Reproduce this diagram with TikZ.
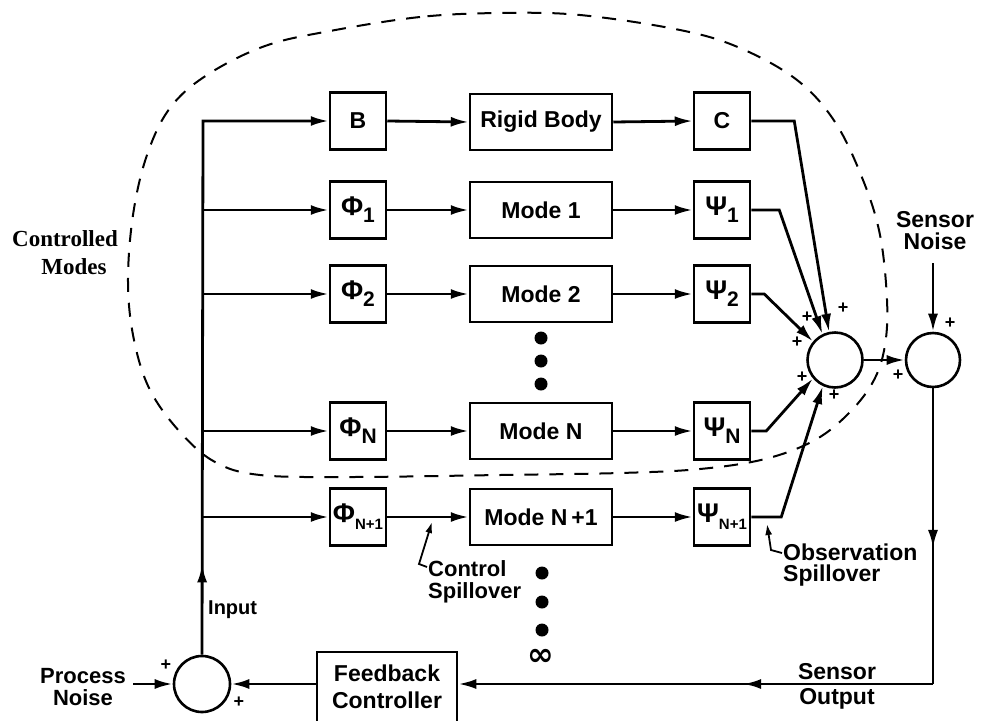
\documentclass[tikz,border=0pt]{standalone}
\usepackage{fontspec}
\newfontfamily\hv{Liberation Sans}
\newfontfamily\dv{DejaVu Sans}
\newfontfamily\tms{Liberation Serif}
\usetikzlibrary{arrows.meta,decorations.markings,calc}
\newcommand\mysub[2][21]{\raisebox{-7pt}{\fontsize{#1}{#1}\selectfont #2}}
\newcommand\bigG[1]{{\fontsize{27}{27}\selectfont #1}}
\begin{document}
\begin{tikzpicture}[x=1pt,y=-1pt,line join=miter,
  conn/.style={line width=2.8pt,-{Latex[length=18pt,width=10pt]}},
  ln/.style={line width=2.8pt},
  blk/.style={draw,line width=2.5pt,minimum width=56pt,minimum height=57pt,inner sep=0pt,font=\hv\bfseries\fontsize{23}{25}\selectfont},
  wide/.style={blk,minimum width=142pt,minimum height=56pt},
  sumj/.style={circle,draw,line width=2.6pt,inner sep=0pt},
  lbl/.style={font=\hv\bfseries\fontsize{23}{25}\selectfont,align=center,inner sep=0pt},
  pl/.style={font=\hv\bfseries\fontsize{18}{18}\selectfont,inner sep=0pt},
  dotn/.style={circle,fill,minimum size=13pt,inner sep=0pt},
  lead/.style={line width=1.8pt,-{Latex[length=11pt,width=7pt]}},
  midarr/.style={postaction={decorate},decoration={markings,mark=at position #1 with {\arrow{Latex[length=18pt,width=10pt]}}}},
]
\useasboundingbox (0,0) rectangle (981,720);

% dashed boundary of controlled modes
\draw[line width=2pt,dash pattern=on 14pt off 11pt]
  plot[smooth cycle,tension=0.6] coordinates {
  (500,13) (420,17) (330,31) (265,46) (207,75) (170,108) (147,155) (133,215)
  (128,283) (134,340) (150,390) (180,432) (215,462) (260,475) (350,477)
  (500,475) (620,473) (700,469) (765,459) (815,440) (850,412) (874,380)
  (885,345) (887,300) (880,235) (863,180) (835,122) (797,80) (740,48)
  (680,30) (580,15)};

\node[font=\tms\bfseries\fontsize{23}{28}\selectfont,align=center,inner sep=0pt] (cm) at (65,253) {Controlled\\\hspace*{18pt}Modes};

% first column
\node[blk] (b)   at (358,121) {B};
\node[blk] (p1)  at (358,210) {\bigG{Φ}\mysub{1}};
\node[blk] (p2)  at (358,294) {\bigG{Φ}\mysub{2}};
\node[blk] (pn)  at (358,431) {\bigG{Φ}\mysub{N}};
\node[blk] (pn1) at (358,517) {\bigG{Φ}\mysub[15]{N+1}};

% modes
\node[wide] (rb)  at (541,122) {Rigid Body};
\node[wide] (m1)  at (541,210) {Mode 1};
\node[wide] (m2)  at (541,294) {Mode 2};
\node[wide] (mn)  at (541,431) {Mode N};
\node[wide] (mn1) at (541,517) {Mode N\,+1};

% output matrices
\node[blk] (c)   at (722,121) {C};
\node[blk] (q1)  at (722,210) {\bigG{Ψ}\mysub{1}};
\node[blk] (q2)  at (722,294) {\bigG{Ψ}\mysub{2}};
\node[blk] (qn)  at (722,431) {\bigG{Ψ}\mysub{N}};
\node[blk] (qn1) at (722,517) {\bigG{Ψ}\mysub[15]{N+1}};

% dots
\node[dotn] (d1) at (541,338) {};
\node[dotn] (d2) at (541,361) {};
\node[dotn] (d3) at (541,384) {};
\node[dotn] (d4) at (542,573) {};
\node[dotn] (d5) at (542,602) {};
\node[dotn] (d6) at (542,630) {};
\node[inner sep=0pt,font=\dv\bfseries\fontsize{32}{32}\selectfont] (infty) at (541,657) {∞};

% summing junctions
\node[sumj,minimum size=55pt] (s1) at (835,360) {};
\node[sumj,minimum size=54pt] (s2) at (933,360) {};
\node[sumj,minimum size=56pt] (s0) at (202,684) {};

% feedback controller
\node[draw,line width=2.5pt,minimum width=140pt,minimum height=96pt,inner sep=0pt] (fb) at (387,700) {};
\node[lbl,font=\hv\bfseries\fontsize{23}{27}\selectfont] (fbt) at (387,687) {Feedback\\Controller};

% labels
\node[lbl,font=\hv\bfseries\fontsize{23}{22}\selectfont] (sn) at (935,231) {Sensor\\Noise};
\node[lbl,font=\hv\bfseries\fontsize{23}{25}\selectfont] (so) at (837,686) {Sensor\\Output};
\node[lbl,font=\hv\bfseries\fontsize{22}{22}\selectfont] (pnz) at (83,687) {Process\\Noise};
\node[lbl,font=\hv\bfseries\fontsize{20}{20}\selectfont,anchor=west] (inp) at (208,610) {Input};
\node[lbl,font=\hv\bfseries\fontsize{22}{22}\selectfont,anchor=north west,align=left] (cs) at (428,560) {Control\\Spillover};
\node[lbl,font=\hv\bfseries\fontsize{23}{21}\selectfont,anchor=north west,align=left] (os) at (783,544) {Observation\\Spillover};

% plus signs
\node[pl] at (166,665) {+};
\node[pl] at (239,702) {+};
\node[pl] at (807,317) {+};
\node[pl] at (797,342) {+};
\node[pl] at (843,308) {+};
\node[pl] at (802,377) {+};
\node[pl] at (834,395) {+};
\node[pl] at (950,323) {+};
\node[pl] at (898,375) {+};

% input bus
\coordinate (bustop) at (203,121);
\draw[conn,midarr=0.137] (s0.north) -- (bustop) -- (b.west);
\draw[conn] (bustop |- p1.west) -- (p1.west);
\draw[conn] (bustop |- p2.west) -- (p2.west);
\draw[conn] (bustop |- pn.west) -- (pn.west);
\draw[conn] (bustop |- pn1.west) -- (pn1.west);

% rows
\draw[conn] (b.east) -- (rb.west);
\draw[conn] (p1.east) -- (m1.west);
\draw[conn] (p2.east) -- (m2.west);
\draw[conn] (pn.east) -- (mn.west);
\draw[conn] (pn1.east) -- (mn1.west);
\draw[conn] (rb.east) -- (c.west);
\draw[conn] (m1.east) -- (q1.west);
\draw[conn] (m2.east) -- (q2.west);
\draw[conn] (mn.east) -- (qn.west);
\draw[conn] (mn1.east) -- (qn1.west);

% outputs to summing junction
\draw[conn] (c.east) -- ++(43,0) -- (s1.102);
\draw[conn] (q1.east) -- ++(28,0) -- (s1.116);
\draw[conn] (q2.east) -- ++(13,0) -- (s1.140);
\draw[conn] (qn.east) -- ++(15,0) -- (s1.220);
\draw[conn] (qn1.east) -- ++(30,0) -- (s1.245);

\draw[conn] (s1.east) -- (s2.west);
\coordinate (snin) at (933,263);
\draw[conn] (snin) -- (s2.north);

% feedback path
\coordinate (turn) at (933,684);
\draw[ln,midarr=0.54] (s2.south) -- (turn);
\draw[conn,midarr=0.40] (turn) -- (turn -| fb.east);
\draw[conn] (turn -| fb.west) -- (s0.east);
\coordinate (pnin) at (133,684);
\draw[conn] (pnin) -- (s0.west);

% spillover leaders
\coordinate (cstip) at (432,522);
\draw[lead] ([xshift=-1pt,yshift=-7pt]cs.north west) -- ++(-8,-3) -- (cstip);
\coordinate (ostip) at (767,524);
\draw[lead] ([xshift=-1pt,yshift=-9pt]os.north west) -- ++(-11,-3) -- (ostip);
\end{tikzpicture}
\end{document}
